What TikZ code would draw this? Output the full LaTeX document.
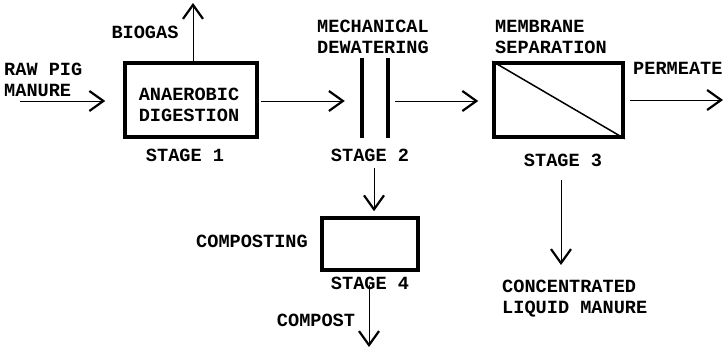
\documentclass[tikz,border=0pt]{standalone}
\usepackage{fontspec}
\setmonofont{Liberation Mono}
\usetikzlibrary{arrows.meta}
\tikzset{
  lbl/.style={font=\ttfamily\bfseries\fontsize{18.6}{21}\selectfont, inner sep=0pt, align=left},
  stagebox/.style={draw, line width=3.5pt, inner sep=0pt},
  flow/.style={line width=0.9pt, -{Straight Barb[length=14pt,width=20pt,line width=2.2pt]}},
  wall/.style={line width=3.5pt}
}
\begin{document}
\begin{tikzpicture}[x=1pt,y=-1pt]
\useasboundingbox (0,0) rectangle (726,347);
% boxes
\node[stagebox, minimum width=132pt, minimum height=74pt] (b1) at (191,100) {};
\node[lbl, align=center] (b1t) at (189,105) {ANAEROBIC\\DIGESTION};
\node[inner sep=0pt, minimum width=26pt, minimum height=80pt] (s2) at (375,98) {};
\draw[wall] (s2.north west) -- (s2.south west);
\draw[wall] (s2.north east) -- (s2.south east);
\node[stagebox, minimum width=129pt, minimum height=74pt] (b3) at (558.5,100) {};
\draw[line width=1.5pt] (b3.north west) -- (b3.south east);
\node[stagebox, minimum width=96pt, minimum height=52pt] (b4) at (370,244) {};
% labels
\node[lbl, anchor=west] (raw) at (4,80) {RAW PIG\\MANURE};
\node[lbl] (bio) at (145,32) {BIOGAS};
\node[lbl, anchor=west] (mech) at (317,37) {MECHANICAL\\DEWATERING};
\node[lbl, anchor=west] (memb) at (495,37) {MEMBRANE\\SEPARATION};
\node[lbl, anchor=west] (perm) at (633,68) {PERMEATE};
\node[lbl] (st1) at (185,155) {STAGE 1};
\node[lbl] (st2) at (370,155) {STAGE 2};
\node[lbl] (st3) at (563,160) {STAGE 3};
\node[lbl] (st4) at (370,283) {STAGE 4};
\node[lbl] (comp) at (252,241) {COMPOSTING};
\node[lbl] (cpost) at (316,320) {COMPOST};
\node[lbl, anchor=west] (conc) at (502,299) {CONCENTRATED\\LIQUID MANURE};
% free ends
\coordinate (inS) at (20,101);
\coordinate (bioE) at (193,3);
\coordinate (permS) at (630,100);
\coordinate (permE) at (723,100);
\coordinate (d2S) at (374,168);
\coordinate (compS) at (369,285);
\coordinate (compE) at (369,347);
\coordinate (concS) at (561,180);
\coordinate (concE) at (561,265);
% flows
\draw[flow, shorten >=18pt] (inS) -- (inS -| b1.west);
\draw[flow] (b1.north -| bioE) -- (bioE);
\draw[flow, shorten <=2pt, shorten >=17pt] (b1.east |- inS) -- (s2.west |- inS);
\draw[flow, shorten <=7pt, shorten >=14pt] (s2.east |- inS) -- (b3.west |- inS);
\draw[flow] (permS) -- (permE);
\draw[flow, shorten >=5pt] (d2S) -- (b4.north -| d2S);
\draw[flow] (compS) -- (compE);
\draw[flow] (concS) -- (concE);
\end{tikzpicture}
\end{document}
